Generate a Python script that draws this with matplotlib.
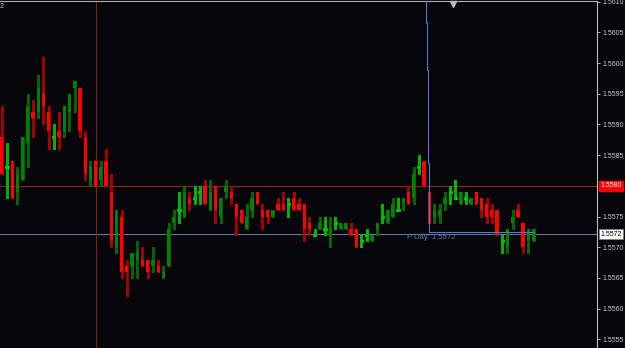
import numpy as np
import matplotlib.pyplot as plt

# OHLC per bar (4-digit quotes)
opens = [1.5588, 1.5583, 1.5584, 1.5579, 1.5581, 1.5587, 1.5592, 1.5592, 1.5595, 1.5592,
         1.5588, 1.5589, 1.5589, 1.5592, 1.5596, 1.5596, 1.5588, 1.5581, 1.5584, 1.5581,
         1.5584, 1.5579, 1.5570, 1.5575, 1.5567, 1.5567, 1.5568, 1.5568, 1.5568, 1.5567,
         1.5567, 1.5565, 1.5567, 1.5574, 1.5576, 1.5575, 1.5578, 1.5578, 1.5579, 1.5580,
         1.5576, 1.5580, 1.5575, 1.5579, 1.5579, 1.5577, 1.5576, 1.5573, 1.5576, 1.5579,
         1.5576, 1.5576, 1.5575, 1.5577, 1.5577, 1.5577, 1.5578, 1.5577, 1.5577, 1.5574,
         1.5572, 1.5573, 1.5573, 1.5572, 1.5574, 1.5573, 1.5573, 1.5573, 1.5573, 1.5571,
         1.5572, 1.5571, 1.5573, 1.5575, 1.5574, 1.5575, 1.5576, 1.5577, 1.5579, 1.5578,
         1.5583, 1.5584, 1.5579, 1.5575, 1.5575, 1.5577, 1.5579, 1.5578, 1.5577, 1.5578,
         1.5577, 1.5579, 1.5578, 1.5577, 1.5576, 1.5576, 1.5571, 1.5570, 1.5574, 1.5576,
         1.5574, 1.5571, 1.5571]
highs = [1.5593, 1.5587, 1.5584, 1.5583, 1.5588, 1.5595, 1.5594, 1.5598, 1.5601, 1.5593,
         1.5590, 1.5592, 1.5593, 1.5595, 1.5597, 1.5596, 1.5589, 1.5584, 1.5584, 1.5584,
         1.5586, 1.5582, 1.5576, 1.5576, 1.5568, 1.5569, 1.5571, 1.5570, 1.5568, 1.5570,
         1.5568, 1.5567, 1.5574, 1.5576, 1.5579, 1.5580, 1.5579, 1.5580, 1.5580, 1.5581,
         1.5581, 1.5580, 1.5578, 1.5581, 1.5580, 1.5577, 1.5576, 1.5577, 1.5579, 1.5579,
         1.5577, 1.5576, 1.5576, 1.5578, 1.5579, 1.5578, 1.5579, 1.5578, 1.5577, 1.5575,
         1.5573, 1.5575, 1.5575, 1.5575, 1.5575, 1.5574, 1.5574, 1.5574, 1.5573, 1.5572,
         1.5573, 1.5572, 1.5574, 1.5577, 1.5576, 1.5578, 1.5578, 1.5578, 1.5580, 1.5583,
         1.5585, 1.5584, 1.5579, 1.5577, 1.5577, 1.5579, 1.5580, 1.5581, 1.5579, 1.5579,
         1.5578, 1.5579, 1.5578, 1.5578, 1.5577, 1.5576, 1.5572, 1.5573, 1.5576, 1.5577,
         1.5574, 1.5573, 1.5573]
lows = [1.5582, 1.5578, 1.5578, 1.5577, 1.5581, 1.5583, 1.5588, 1.5591, 1.5590, 1.5586,
        1.5586, 1.5586, 1.5588, 1.5589, 1.5592, 1.5588, 1.5581, 1.5580, 1.5580, 1.5580,
        1.5580, 1.5570, 1.5569, 1.5565, 1.5562, 1.5565, 1.5565, 1.5567, 1.5565, 1.5566,
        1.5566, 1.5565, 1.5567, 1.5573, 1.5574, 1.5575, 1.5576, 1.5577, 1.5577, 1.5577,
        1.5576, 1.5574, 1.5574, 1.5578, 1.5577, 1.5572, 1.5574, 1.5573, 1.5575, 1.5577,
        1.5573, 1.5574, 1.5575, 1.5576, 1.5576, 1.5575, 1.5576, 1.5576, 1.5571, 1.5572,
        1.5572, 1.5573, 1.5572, 1.5570, 1.5573, 1.5573, 1.5573, 1.5572, 1.5570, 1.5570,
        1.5571, 1.5571, 1.5572, 1.5574, 1.5574, 1.5575, 1.5576, 1.5576, 1.5577, 1.5577,
        1.5582, 1.5580, 1.5574, 1.5574, 1.5574, 1.5576, 1.5577, 1.5578, 1.5577, 1.5577,
        1.5577, 1.5577, 1.5575, 1.5574, 1.5574, 1.5572, 1.5569, 1.5569, 1.5573, 1.5575,
        1.5569, 1.5569, 1.5571]
closes = [1.5582, 1.5583, 1.5578, 1.5582, 1.5588, 1.5593, 1.5591, 1.5596, 1.5593, 1.5589,
          1.5588, 1.5588, 1.5593, 1.5595, 1.5597, 1.5589, 1.5582, 1.5583, 1.5580, 1.5583,
          1.5580, 1.5571, 1.5576, 1.5566, 1.5566, 1.5569, 1.5569, 1.5567, 1.5566, 1.5568,
          1.5566, 1.5566, 1.5573, 1.5575, 1.5576, 1.5579, 1.5577, 1.5578, 1.5579, 1.5577,
          1.5579, 1.5576, 1.5578, 1.5580, 1.5578, 1.5575, 1.5574, 1.5575, 1.5578, 1.5577,
          1.5575, 1.5575, 1.5576, 1.5576, 1.5576, 1.5577, 1.5576, 1.5576, 1.5573, 1.5573,
          1.5572, 1.5574, 1.5573, 1.5573, 1.5574, 1.5574, 1.5574, 1.5572, 1.5570, 1.5571,
          1.5572, 1.5572, 1.5574, 1.5575, 1.5576, 1.5577, 1.5576, 1.5578, 1.5577, 1.5582,
          1.5583, 1.5580, 1.5574, 1.5576, 1.5576, 1.5578, 1.5579, 1.5578, 1.5579, 1.5578,
          1.5578, 1.5577, 1.5576, 1.5575, 1.5575, 1.5572, 1.5571, 1.5573, 1.5575, 1.5575,
          1.5570, 1.5573, 1.5573]

red_level = 1.5580      # horizontal line with red price tag
bid_level = 1.55721     # current price line
pday_label = 'P Day: 1.5572'
# previous-day step line (bar position, price)
pday_x = [81.4, 81.4, 81.55, 81.55, 81.7, 81.7, 81.85, 81.85, 82.0, 82.0, 102.1]
pday_y = [1.5612, 1.56065, 1.56065, 1.55988, 1.55988, 1.55914, 1.55914, 1.55837, 1.55837,
          1.55725, 1.55725]
vline_bar = 18
price_ticks = [1.5555, 1.5560, 1.5565, 1.5570, 1.5575, 1.5585, 1.5590, 1.5595, 1.5600,
               1.5605, 1.5610]

bg = '#05050a'
plt.rcParams['font.family'] = ['Liberation Sans', 'DejaVu Sans']

fig = plt.figure(figsize=(6.25, 3.48), dpi=100, facecolor=bg)
ax = fig.add_axes([0, 0, 597 / 625, 347 / 348], facecolor=bg)

o = np.array(opens)
h = np.array(highs)
l = np.array(lows)
c = np.array(closes)
x = np.arange(len(o))

up = c > o
down = c < o
doji = c == o

# wicks
ax.vlines(x[up], l[up], h[up], color='#006400', lw=0.8, antialiased=False, zorder=2)
ax.vlines(x[down], l[down], h[down], color='#a00000', lw=0.8, antialiased=False, zorder=2)
ax.vlines(x[doji], l[doji], h[doji], color='#00b000', lw=0.8, antialiased=False, zorder=2)

# bodies
ax.bar(x[up], c[up] - o[up], bottom=o[up], width=0.62, color='#008000',
       antialiased=False, zorder=3)
ax.bar(x[down], o[down] - c[down], bottom=c[down], width=0.62, color='#ff0000',
       antialiased=False, zorder=3)
ax.hlines(o[doji], x[doji] - 0.31, x[doji] + 0.31, color='#00c000', lw=0.8,
          antialiased=False, zorder=3)

# lines
ax.axhline(red_level, color='#9b1c1c', lw=0.8, zorder=1)
ax.axhline(bid_level, color='#5f7896', lw=0.8, zorder=1)
ax.axvline(vline_bar, color='#7a2020', lw=0.8, zorder=1)
ax.plot(pday_x, pday_y, color='#5577cc', lw=0.8, zorder=4)
ax.text(77.7, 1.55716, pday_label, color='#5a78b0', fontsize=5.5, va='center', ha='left',
        zorder=5)
ax.plot(86.5, 1.56096, marker='v', ms=4, color='#b8b8b8', clip_on=False, zorder=6)

ax.set_xlim(-0.326, 114.17)
ax.set_ylim(1.55536, 1.56101)

# axes look
for side in ['left', 'bottom']:
    ax.spines[side].set_visible(False)
ax.spines['right'].set_color('#c0c0c0')
ax.spines['top'].set_color('#b0b0b0')
ax.spines['right'].set_linewidth(0.8)
ax.spines['top'].set_linewidth(0.8)
ax.set_xticks([])
ax.yaxis.tick_right()
ax.set_yticks(price_ticks)
ax.set_yticklabels(['%.4f' % p for p in price_ticks])
ax.tick_params(axis='y', colors='#c8c8c8', labelsize=5, length=2, width=0.6, pad=2)

# price tags on the axis
yt = ax.get_yaxis_transform()
ax.text(1.005, red_level, '1.5580', transform=yt, fontsize=5, color='white', va='center',
        ha='left', bbox=dict(boxstyle='square,pad=0.2', fc='#ff0000', ec='#ff0000'),
        clip_on=False)
ax.text(1.005, bid_level, '1.5572', transform=yt, fontsize=5, color='black', va='center',
        ha='left', bbox=dict(boxstyle='square,pad=0.2', fc='white', ec='#808080', lw=0.6),
        clip_on=False)

fig.text(0.0, 1 - 6 / 348, '2', fontsize=5, color='#c0c0c0', va='center', ha='left')

fig.savefig('out.png', dpi=100, facecolor=bg)
